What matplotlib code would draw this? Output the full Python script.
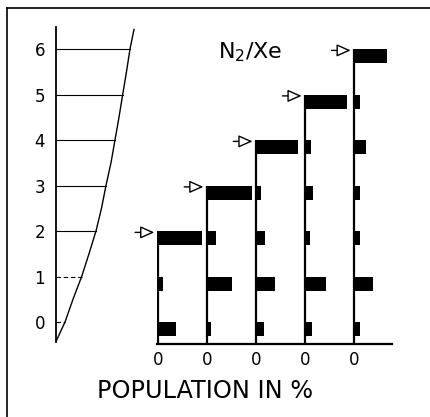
import numpy as np
import matplotlib.pyplot as plt
from matplotlib.lines import Line2D

plt.rcParams['font.family'] = ['DejaVu Sans']

# vibrational levels and the potential curve
levels = [0, 1, 2, 3, 4, 5, 6]
level_x = [9, 25.7, 40, 50, 59, 66.7, 74]
curve_v = [-0.43, 0, 0.5, 1, 1.5, 2, 2.5, 3, 3.5, 4, 4.5, 5, 5.5, 6, 6.43]
curve_x = [0, 9, 17, 25.7, 33, 40, 45.5, 50, 55, 59, 63, 66.7, 70.5, 74, 78]

# populations in %, one list per pumped level (index = level)
pumped = [2, 3, 4, 5, 6]
pop_g1 = [38, 11, 91]
pop_g2 = [8, 52, 18, 92]
pop_g3 = [17, 39, 19, 10, 85]
pop_g4 = [14, 42, 10, 17, 12, 85]
pop_g5 = [11, 38, 12, 12, 24, 11, 67]
pops = [pop_g1, pop_g2, pop_g3, pop_g4, pop_g5]
offsets = [0, 100, 200, 300, 400]

fig = plt.figure(figsize=(4.31, 4.17), dpi=100)
ylo, yhi = -0.48, 6.6

# potential well on the left
ax1 = fig.add_axes([0.1299, 0.1754, 0.1949, 0.7725])
ax1.plot(curve_x, curve_v, color='black', lw=1.0)
for v, xv in zip(levels, level_x):
    ls = (0, (4, 2.5)) if v < 2 else '-'
    ax1.plot([0, xv], [v, v], color='black', lw=0.8, ls=ls)
ax1.set_xlim(0, 84)
ax1.set_ylim(ylo, yhi)
for s in ['top', 'right', 'bottom']:
    ax1.spines[s].set_visible(False)
ax1.spines['left'].set_bounds(-0.43, 6.48)
ax1.spines['left'].set_linewidth(1.3)
ax1.set_xticks([])
ax1.set_yticks(levels)
ax1.set_yticklabels([str(v) for v in levels])
ax1.tick_params(axis='y', length=0, pad=8, labelsize=12)
ax1.patch.set_visible(False)

# population histograms
ax2 = fig.add_axes([0.3636, 0.1754, 0.5469, 0.7725])
for off, top, p in zip(offsets, pumped, pops):
    lv = np.arange(len(p))
    ax2.barh(lv - 0.31, p, height=0.31, left=off, align='edge', color='black')
    ax2.vlines(off, ylo, top, color='black', lw=1.6)
    ax2.annotate('', xy=(off - 7, top - 0.03), xytext=(off - 46, top - 0.03),
                 annotation_clip=False,
                 arrowprops=dict(arrowstyle='-|>,head_length=0.85,head_width=0.38',
                                 fc='white', ec='black', lw=1.0,
                                 shrinkA=0, shrinkB=0, mutation_scale=10))
ax2.set_xlim(-2, 478)
ax2.set_ylim(ylo, yhi)
for s in ['top', 'right', 'left']:
    ax2.spines[s].set_visible(False)
ax2.spines['bottom'].set_linewidth(1.6)
ax2.set_yticks([])
ax2.set_xticks(offsets)
ax2.set_xticklabels(['0'] * len(offsets))
ax2.tick_params(axis='x', length=0, pad=5.5, labelsize=12)
ax2.patch.set_visible(False)

fig.text(218 / 431, 1 - 58.3 / 417, 'N$_2$/Xe', fontsize=16, ha='left', va='baseline')
fig.text(96.7 / 431, 1 - 398.3 / 417, 'POPULATION IN %', fontsize=17.3,
         ha='left', va='baseline')

# frame edges of the scanned figure
fig.add_artist(Line2D([7 / 431, 1], [1 - 8 / 417, 1 - 8 / 417], color='black', lw=1.2))
fig.add_artist(Line2D([7 / 431, 7 / 431], [0, 1 - 8 / 417], color='black', lw=1.2))

fig.savefig('out.png', dpi=100)
